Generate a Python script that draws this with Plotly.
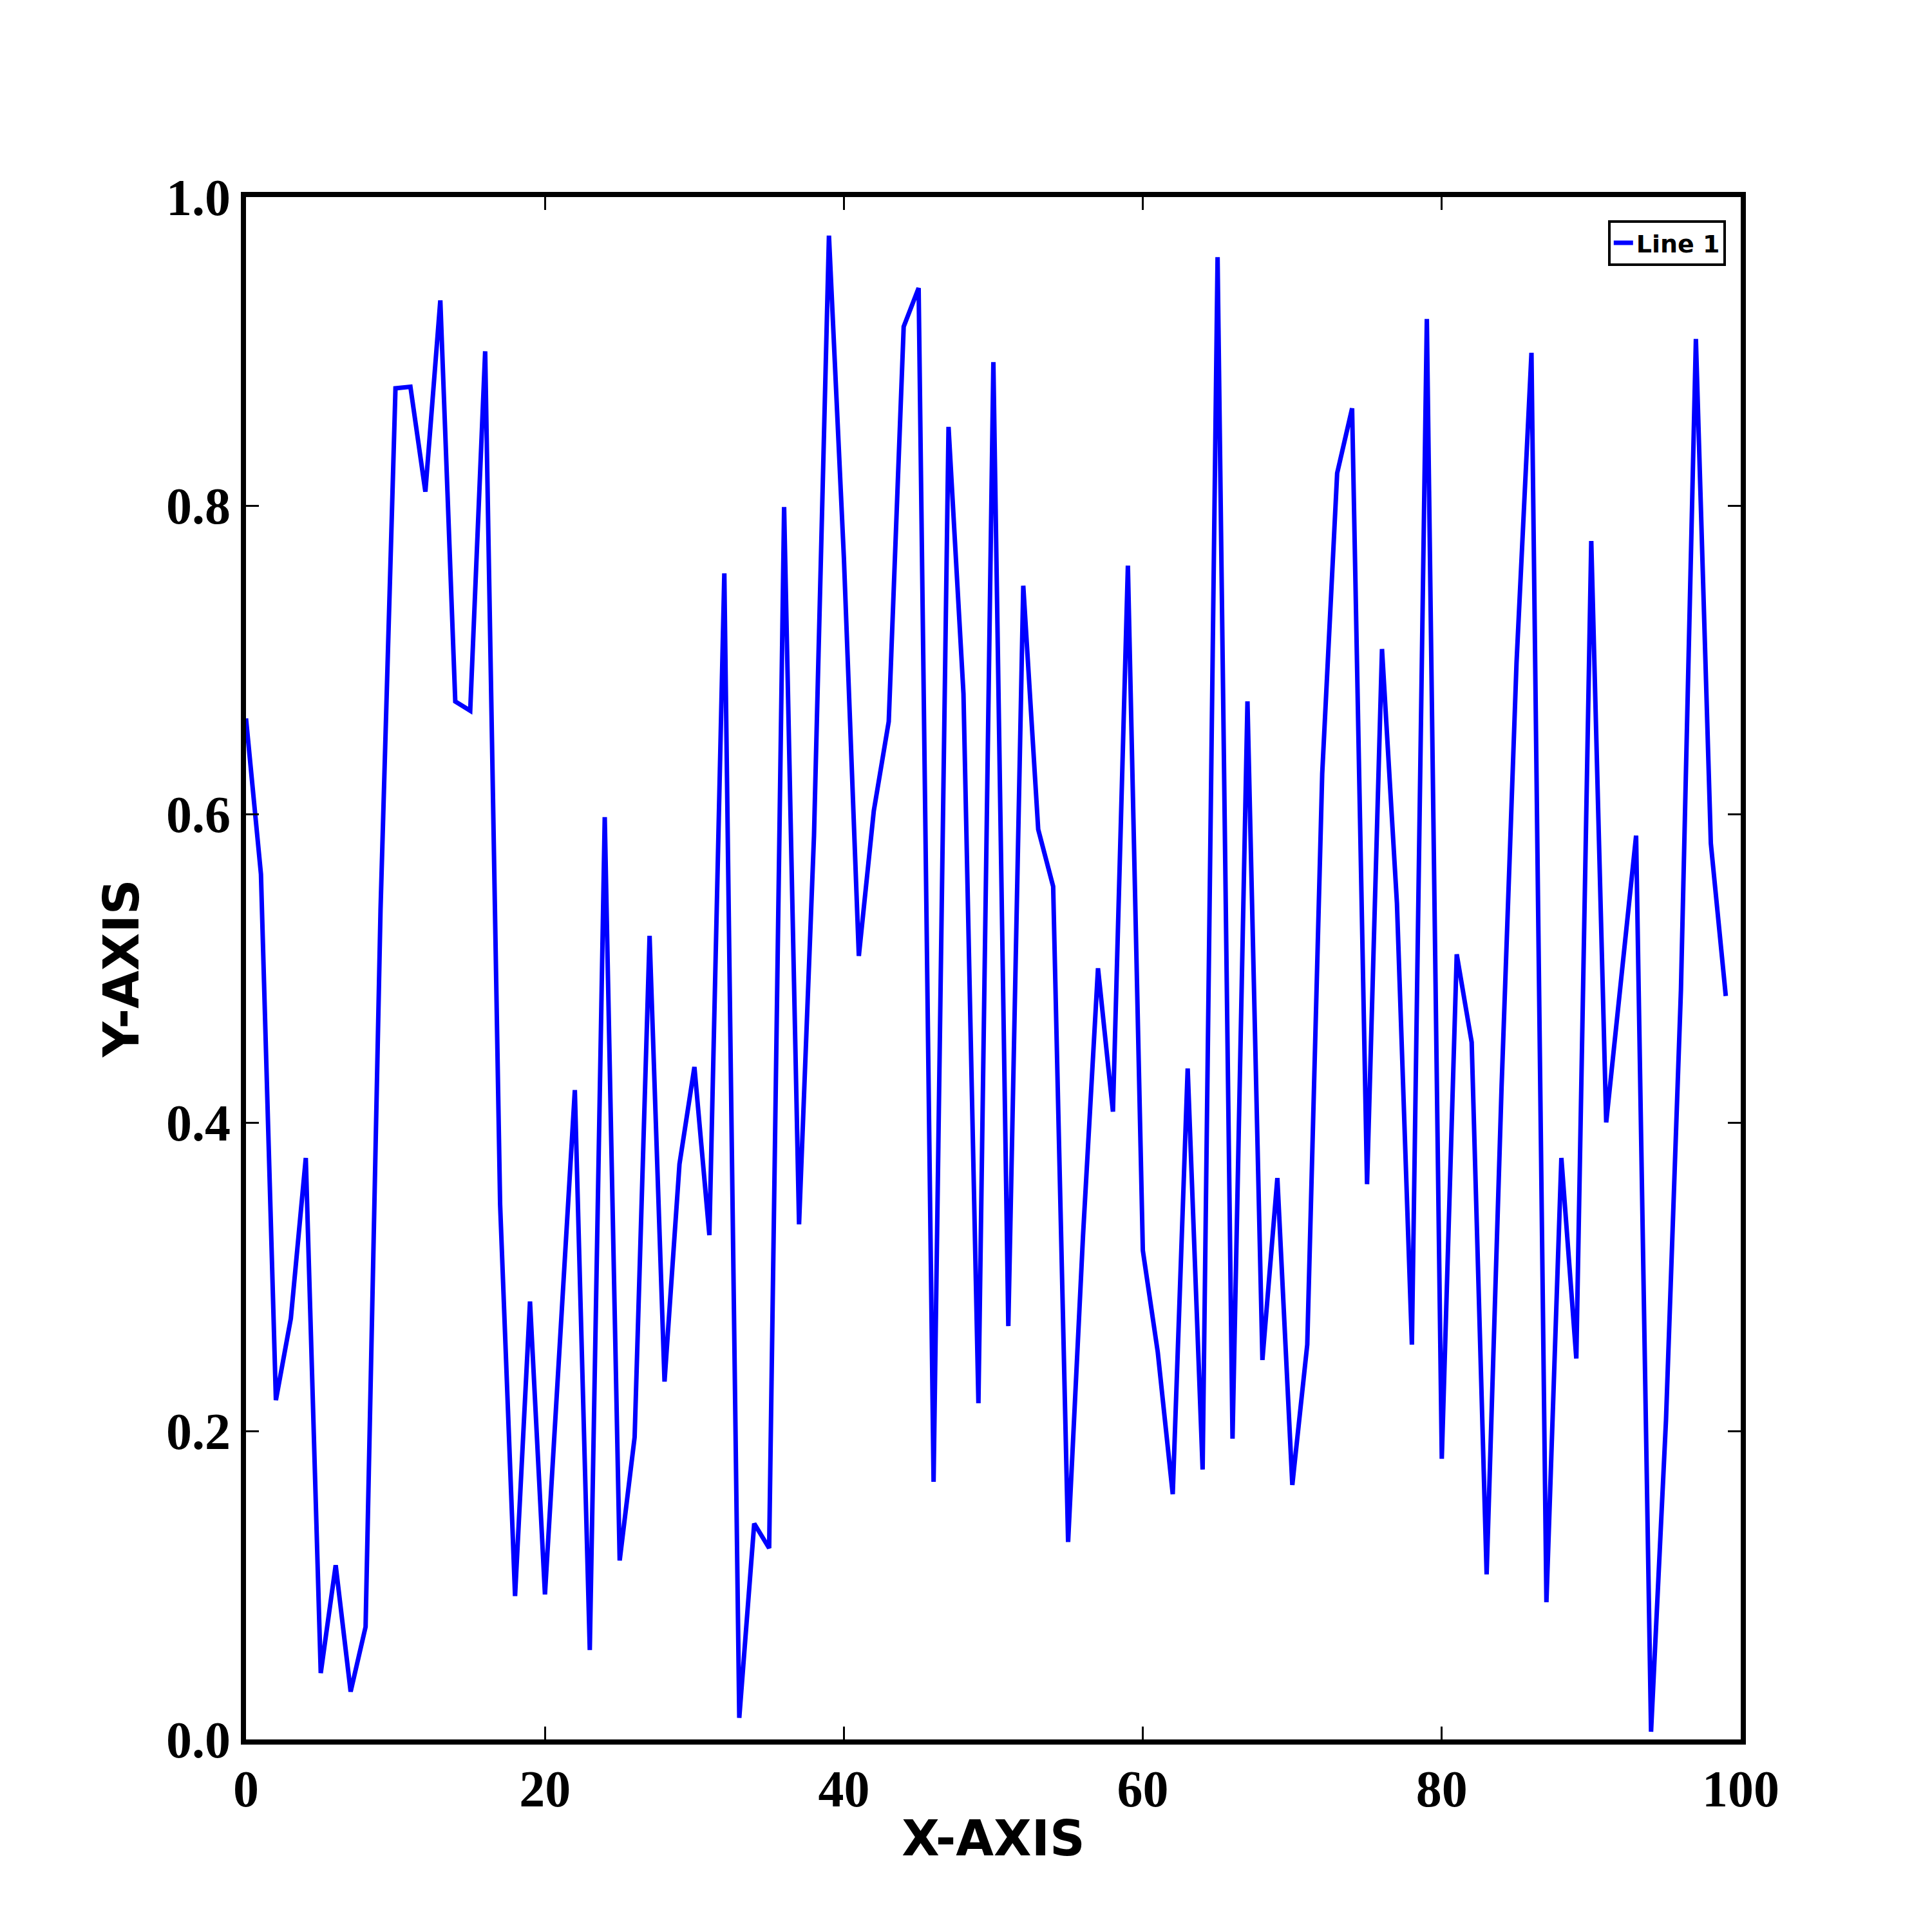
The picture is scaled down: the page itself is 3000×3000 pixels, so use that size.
import plotly.graph_objects as go

x_vals = list(range(100))
y_vals = [
    0.662, 0.561, 0.220, 0.273, 0.377, 0.043, 0.113, 0.031, 0.073, 0.538,
    0.876, 0.877, 0.809, 0.933, 0.673, 0.667, 0.900, 0.347, 0.093, 0.284,
    0.094, 0.263, 0.421, 0.058, 0.598, 0.116, 0.196, 0.521, 0.232, 0.373,
    0.436, 0.327, 0.756, 0.014, 0.140, 0.124, 0.799, 0.334, 0.586, 0.975,
    0.766, 0.508, 0.602, 0.660, 0.916, 0.941, 0.167, 0.851, 0.678, 0.218,
    0.893, 0.268, 0.748, 0.590, 0.553, 0.128, 0.327, 0.500, 0.407, 0.761,
    0.317, 0.251, 0.159, 0.435, 0.175, 0.961, 0.195, 0.673, 0.246, 0.364,
    0.165, 0.256, 0.626, 0.821, 0.863, 0.360, 0.707, 0.542, 0.256, 0.921,
    0.182, 0.509, 0.452, 0.107, 0.423, 0.698, 0.899, 0.089, 0.377, 0.247,
    0.777, 0.400, 0.494, 0.586, 0.005, 0.207, 0.486, 0.908, 0.581, 0.482,
]
x_ticks = [0, 20, 40, 60, 80, 100]
y_ticks = [0.0, 0.2, 0.4, 0.6, 0.8, 1.0]

fig = go.Figure()
fig.add_trace(go.Scatter(
    x=x_vals, y=y_vals, mode="lines", name="<b>Line 1</b>",
    line=dict(color="#0000ff", width=7),
))

tick_font = dict(family="Liberation Serif", size=80, color="black")
title_font = dict(family="DejaVu Sans", size=76, color="black")
axis_common = dict(
    showline=True, linecolor="black", linewidth=8, mirror="ticks",
    ticks="inside", ticklen=20, tickwidth=3, tickcolor="black",
    showgrid=False, zeroline=False, tickfont=tick_font,
)
fig.update_xaxes(range=[0, 100], tickvals=x_ticks, ticktext=[f"<b>{t}</b>" for t in x_ticks],
                 title=dict(text="<b>X-AXIS</b>", font=title_font, standoff=10), **axis_common)
fig.update_yaxes(range=[0, 1], tickvals=y_ticks, ticktext=[f"<b>{t:.1f}</b>" for t in y_ticks],
                 title=dict(text="<b>Y-AXIS</b>", font=title_font, standoff=20), **axis_common)

fig.update_layout(
    width=3000, height=3000,
    margin=dict(l=374, r=305, t=298, b=307),
    plot_bgcolor="white", paper_bgcolor="white",
    showlegend=True,
    legend=dict(
        x=0.99, y=0.985, xanchor="right", yanchor="top",
        bordercolor="black", borderwidth=4, bgcolor="white",
        font=dict(family="DejaVu Sans", size=38, color="black"),
    ),
)

fig.write_html("out.html")
